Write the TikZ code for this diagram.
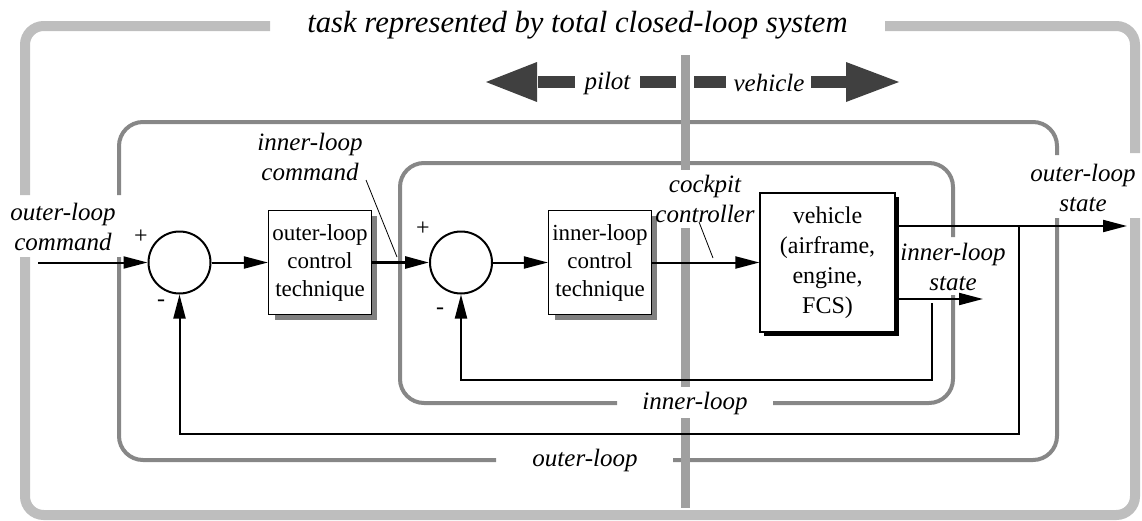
\documentclass[tikz,border=0pt]{standalone}
\usepackage{fontspec}
\setmainfont{Liberation Serif}
\usetikzlibrary{arrows.meta,shadows,calc}
\definecolor{bigframe}{HTML}{BEBEBE}
\definecolor{loopframe}{HTML}{878787}
\definecolor{divbar}{HTML}{A0A0A0}
\definecolor{pvarrow}{HTML}{404040}
\definecolor{shadowgray}{HTML}{808080}
\begin{document}
\begin{tikzpicture}[x=0.75pt,y=-0.75pt,
  bigf/.style={draw=bigframe,line width=7.5pt,rounded corners=14pt},
  loopf/.style={draw=loopframe,line width=3pt,rounded corners=18pt},
  divider/.style={draw=divbar,line width=6.75pt},
  sig/.style={line width=1.5pt,-{Triangle[length=18pt,width=9pt]}},
  thicksig/.style={line width=2.2pt,-{Triangle[length=18pt,width=9pt]}},
  leader/.style={line width=0.6pt},
  sumnode/.style={draw,circle,line width=1.5pt,minimum size=46.5pt,inner sep=0pt,fill=white},
  blockbox/.style={draw,line width=1.1pt,fill=white,minimum width=77pt,minimum height=78pt,
    inner sep=0pt,align=center,font=\fontsize{17.25}{21}\selectfont,
    drop shadow={shadow xshift=4.5pt,shadow yshift=-4pt,fill=shadowgray,opacity=1}},
  vehbox/.style={draw,line width=1.1pt,fill=white,minimum width=101pt,minimum height=104pt,
    inner sep=0pt,align=center,font=\fontsize{18}{22.5}\selectfont,
    drop shadow={shadow xshift=3pt,shadow yshift=-3pt,fill=black,opacity=1}},
  lbl/.style={align=center,inner sep=0pt,font=\fontsize{18.75}{23}\selectfont\itshape},
  sign/.style={inner sep=0pt,font=\fontsize{18}{20}\selectfont}
]
\useasboundingbox (0,0) rectangle (1142,521);

% big frame
\draw[bigf] (270,26) -- (25,26) -- (25,195);
\draw[bigf] (25,257) -- (25,515) -- (1135,515) -- (1135,218);
\draw[bigf] (1135,153) -- (1135,26) -- (885,26);

% loop frames
\draw[loopf] (119,195) -- (119,122) -- (1057,122) -- (1057,155);
\draw[loopf] (1057,218) -- (1057,460) -- (673,460);
\draw[loopf] (496,460) -- (119,460) -- (119,257);
\draw[loopf] (953,237) -- (953,163) -- (400,163) -- (400,403) -- (617,403);
\draw[loopf] (773,403) -- (953,403) -- (953,295);

% pilot / vehicle divider
\draw[divider] (685,55) -- (685,170);
\draw[divider] (685,228) -- (685,387);
\draw[divider] (685,418) -- (685,508);

% pilot / vehicle arrows
\fill[pvarrow] (486,82) -- (537,62) -- (537,102) -- cycle;
\fill[pvarrow] (538,76) rectangle (575,88);
\fill[pvarrow] (640,76) rectangle (676,88);
\fill[pvarrow] (694,76) rectangle (726,88);
\fill[pvarrow] (811,76) rectangle (846,88);
\fill[pvarrow] (846,62) -- (899,82) -- (846,102) -- cycle;
\node[lbl] (pilot) at (607.5,83) {pilot};
\node[lbl] (vehlbl) at (769,83) {vehicle};

% title
\node[font=\fontsize{23}{27}\selectfont\itshape,inner sep=0pt] (title) at (577.5,25) {task represented by total closed-loop system};

% blocks
\node[sumnode] (s1) at (179.5,262.5) {};
\node[sumnode] (s2) at (461,262.5) {};
\node[blockbox] (ob) at (320,262.5) {outer-loop\\control\\technique};
\node[blockbox] (ib) at (600,262.5) {inner-loop\\control\\technique};
\node[vehbox] (veh) at (827.5,262.5) {vehicle\\(airframe,\\engine,\\FCS)};

% signs
\node[sign] (p1) at (141,237) {+};
\node[sign] (m1) at (161,303) {-};
\node[sign] (p2) at (423,229) {+};
\node[sign] (m2) at (440,311) {-};

% labels
\node[lbl] (lcmdo) at (63,227) {outer-loop\\command};
\node[lbl] (lcmdi) at (310,157) {inner-loop\\command};
\node[lbl] (lcock) at (705,199) {cockpit\\controller};
\node[lbl] (lstout) at (1083,188) {outer-loop\\state};
\node[lbl] (lstin) at (953,267) {inner-loop\\state};
\node[lbl] (linner) at (695,403) {inner-loop};
\node[lbl] (louter) at (585,460) {outer-loop};

% leaders
\coordinate (lc1) at (366,180);
\coordinate (lc2) at (397,257);
\draw[leader] (lc1) -- (lc2);
\coordinate (lk1) at (699,222);
\coordinate (lk2) at (713,258);
\draw[leader] (lk1) -- (lk2);

% signals
\coordinate (in) at (38,262.5);
\draw[sig] (in) -- (s1.west);
\draw[sig] (s1.east) -- (ob.west);
\draw[thicksig] (ob.east) -- (s2.west);
\draw[sig] (s2.east) -- (ib.west);
\draw[sig] (ib.east) -- (veh.west);

\coordinate (os) at (1127,226);
\coordinate (is) at (983,299);
\draw[sig] (veh.east |- os) -- (os);
\draw[sig] (veh.east |- is) -- (is);

\coordinate (ifb) at (932,303);
\coordinate (ifbc) at (932,380);
\draw[sig] (ifb) -- (ifbc) -| (s2.south);
\coordinate (ofb) at (1019,226);
\coordinate (ofbc) at (1019,434);
\draw[sig] (ofb) -- (ofbc) -| (s1.south);
\end{tikzpicture}
\end{document}
